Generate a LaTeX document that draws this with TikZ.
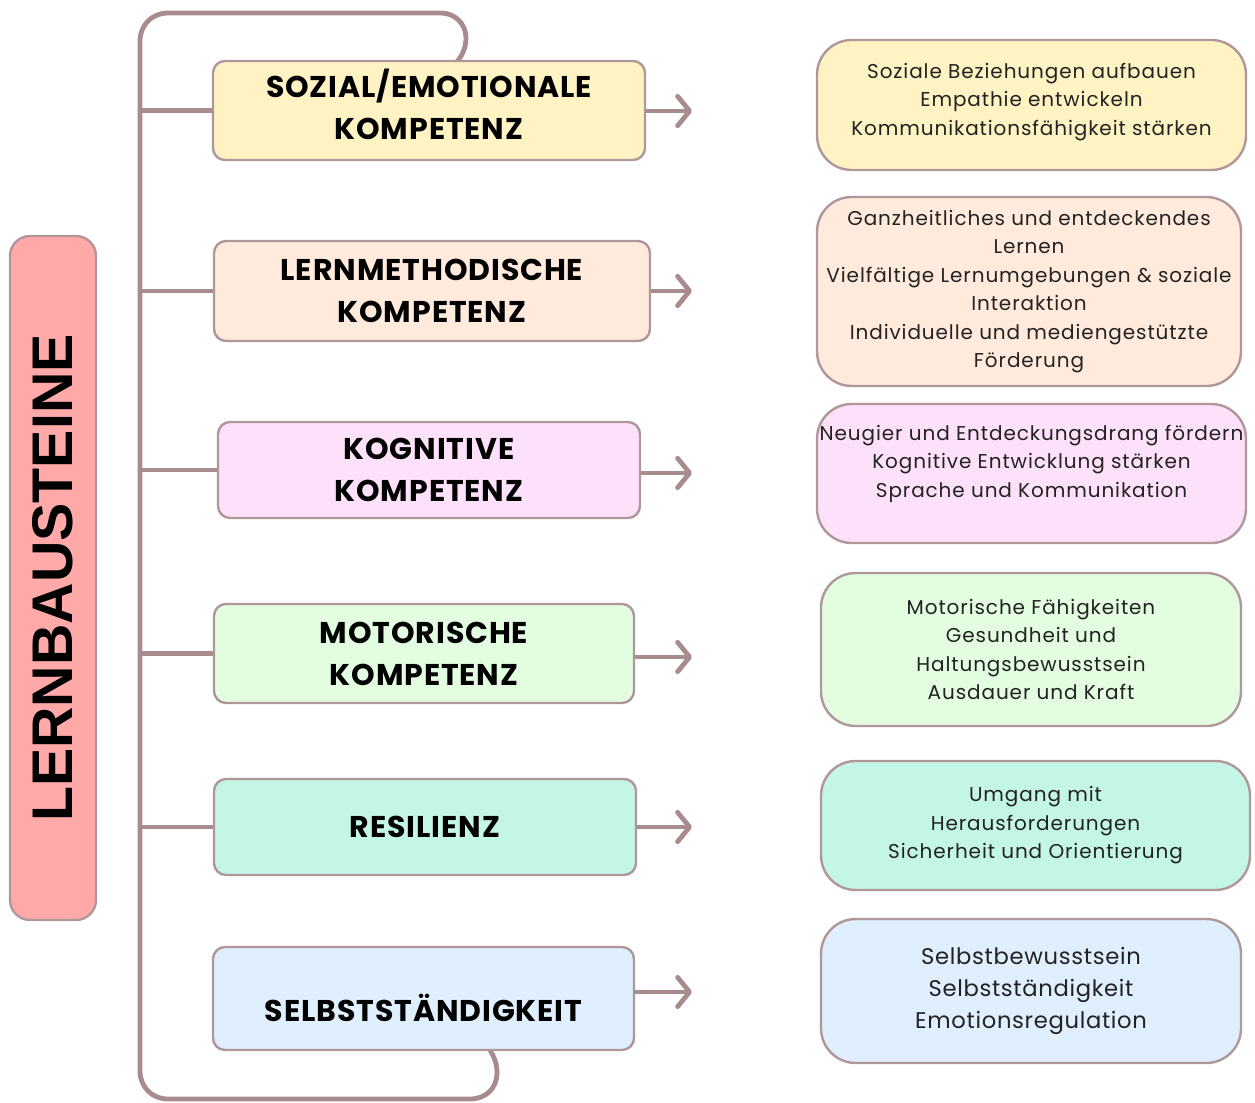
\documentclass[tikz,border=0pt]{standalone}
\usepackage{fontspec}
\setmainfont{Poppins}
\newfontfamily\titlefont{Liberation Sans}
\newfontfamily\rtfont[LetterSpace=4.5]{Poppins}
\newfontfamily\rtfontb[LetterSpace=3]{Poppins}
\newfontfamily\lbfont[LetterSpace=3]{Poppins}
\usetikzlibrary{arrows.meta,calc}
\definecolor{linec}{HTML}{A88B8D}
\definecolor{borderc}{HTML}{B0979A}
\definecolor{cyel}{HTML}{FFF3C4}
\definecolor{cpea}{HTML}{FFEADC}
\definecolor{cpin}{HTML}{FDE1FA}
\definecolor{cgre}{HTML}{E3FDE1}
\definecolor{ctea}{HTML}{C4F6E5}
\definecolor{cblu}{HTML}{E0EFFD}
\definecolor{cred}{HTML}{FFA9A9}
\definecolor{txtc}{HTML}{222222}
\tikzset{
  conn/.style={draw=linec, line width=3.6pt},
  arr/.style={conn, -{Straight Barb[round,length=9pt,width=22pt,line width=3.6pt]}},
  leftbox/.style={draw=borderc, line width=1.8pt, rounded corners=9pt, align=center,
    font=\lbfont\bfseries\fontsize{22.5}{31.5}\selectfont, text=black, inner sep=0pt},
  rightbox/.style={draw=borderc, line width=1.8pt, rounded corners=26pt, align=center,
    font=\rtfont\fontsize{15}{21.4}\selectfont, text=txtc, inner sep=0pt},
}
\begin{document}
\begin{tikzpicture}[x=0.75pt,y=-0.75pt]
\useasboundingbox (0,0) rectangle (1255,1102);
\coordinate (sx) at (140,0);
\coordinate (topin) at (456,63);
\coordinate (botin) at (490,1050);
% spine wrapping from the first to the last box
\draw[conn] (topin) .. controls (462,56) and (466,48) .. (466,38)
  .. controls (466,24) and (455,13) .. (441,13) -- (168,13)
  .. controls (152,13) and (140,25) .. (140,41) -- (140,1071)
  .. controls (140,1087) and (152,1099) .. (168,1099) -- (470,1099)
  .. controls (486,1099) and (497,1088) .. (497,1073)
  .. controls (497,1063) and (494,1057) .. (botin);

% title box
\node[draw=borderc, line width=1.8pt, fill=cred, rounded corners=15pt, rotate=90,
  minimum width=513pt, minimum height=64.5pt, inner sep=0pt,
  font=\titlefont\bfseries\fontsize{43}{43}\selectfont] (T) at (53,578) {LERNBAUSTEINE};

% left boxes
\node[leftbox, fill=cyel, minimum width=324pt, minimum height=74.25pt] (L1) at (429,110.5) {\begin{tabular}{@{}c@{}}SOZIAL/EMOTIONALE\\KOMPETENZ\end{tabular}};
\node[leftbox, fill=cpea, minimum width=327pt, minimum height=75pt] (L2) at (432,291) {LERNMETHODISCHE\\KOMPETENZ};
\node[leftbox, fill=cpin, minimum width=316.5pt, minimum height=72pt] (L3) at (429,470) {KOGNITIVE\\KOMPETENZ};
\node[leftbox, fill=cgre, minimum width=315pt, minimum height=74.25pt] (L4) at (424,653.5) {MOTORISCHE\\KOMPETENZ};
\node[leftbox, fill=ctea, minimum width=316.5pt, minimum height=72pt] (L5) at (425,827) {RESILIENZ};
\node[leftbox, fill=cblu, minimum width=315.75pt, minimum height=77.25pt] (L6) at (423.5,998.5) {\raisebox{-7pt}[\height][\depth]{SELBSTSTÄNDIGKEIT}};

% right boxes
\node[rightbox, fill=cyel, minimum width=321.75pt, minimum height=97.5pt] (R1) at (1031.5,105)
  {\raisebox{3pt}[\height][\depth]{\begin{tabular}{@{}c@{}}Soziale Beziehungen aufbauen\\Empathie entwickeln\\Kommunikationsfähigkeit stärken\end{tabular}}};
\node[rightbox, fill=cpea, minimum width=318pt, minimum height=141.75pt] (R2) at (1029,291.5)
  {Ganzheitliches und entdeckendes\\Lernen\\Vielfältige Lernumgebungen \& soziale\\Interaktion\\Individuelle und mediengestützte\\Förderung};
\node[rightbox, fill=cpin, minimum width=321.75pt, minimum height=104.25pt] (R3) at (1031.5,473.5)
  {\raisebox{8pt}[\height][\depth]{\begin{tabular}{@{}c@{}}Neugier und Entdeckungsdrang fördern\\Kognitive Entwicklung stärken\\Sprache und Kommunikation\end{tabular}}};
\node[rightbox, fill=cgre, minimum width=315pt, minimum height=114.75pt] (R4) at (1031,649.5)
  {Motorische Fähigkeiten\\Gesundheit und\\Haltungsbewusstsein\\Ausdauer und Kraft};
\node[rightbox, fill=ctea, minimum width=321.75pt, minimum height=96.75pt] (R5) at (1035.5,825.5)
  {Umgang mit\\Herausforderungen\\Sicherheit und Orientierung};
\node[rightbox, fill=cblu, minimum width=315pt, minimum height=108pt, font=\rtfontb\fontsize{17}{24}\selectfont] (R6) at (1031,991)
  {Selbstbewusstsein\\Selbstständigkeit\\Emotionsregulation};

% branches
\draw[conn] ($(T.south)+(0,-22)$) -- ($(T.south)+(0,-22)$ -| sx);
\foreach \n in {L1,L2,L3,L4,L5} {
  \draw[conn] (\n.west) -- (\n.west -| sx);
}
% arrows
\foreach \n/\y in {L1/111,L2/291,L3/473,L4/657,L5/827,L6/992} {
  \coordinate (a\n) at (692,\y);
  \draw[arr] (\n.east |- a\n) -- (a\n);
}
\end{tikzpicture}
\end{document}
